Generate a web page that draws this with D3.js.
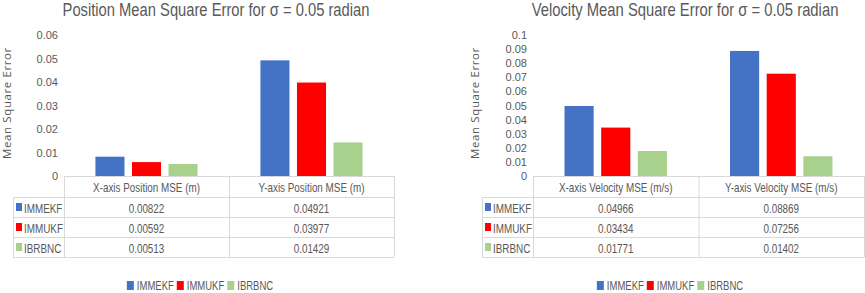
<!DOCTYPE html>
<html>
<head>
<meta charset="utf-8">
<style>
  body { margin: 0; background: #fff; }
  text { font-family: "Liberation Sans", sans-serif; fill: #595959; }
</style>
</head>
<body>
<svg id="cont" width="865" height="293"></svg>
<script src="https://cdn.jsdelivr.net/npm/d3@7"></script>
<script>
// data
var series = ["IMMEKF", "IMMUKF", "IBRBNC"];
var colors = ["#4472C4", "#FF0000", "#A9D18E"];

var posCategories = ["X-axis Position MSE (m)", "Y-axis Position MSE (m)"];
var posIMMEKF = [0.00822, 0.04921];
var posIMMUKF = [0.00592, 0.03977];
var posIBRBNC = [0.00513, 0.01429];
var posTicks = [0, 0.01, 0.02, 0.03, 0.04, 0.05, 0.06];

var velCategories = ["X-axis Velocity MSE (m/s)", "Y-axis Velocity MSE (m/s)"];
var velIMMEKF = [0.04966, 0.08869];
var velIMMUKF = [0.03434, 0.07256];
var velIBRBNC = [0.01771, 0.01402];
var velTicks = [0, 0.01, 0.02, 0.03, 0.04, 0.05, 0.06, 0.07, 0.08, 0.09, 0.1];

var svg = d3.select("#cont");

// squeeze text horizontally (narrow office font look) with a scale transform
function squeeze(sel, k) {
    sel.each(function () {
        var t = d3.select(this);
        var x = +t.attr("x") || 0, y = +t.attr("y") || 0;
        t.attr("x", 0).attr("y", 0)
            .attr("transform", "translate(" + x + "," + y + ") scale(" + k + ",1)");
    });
}

drawPanel({
    title: "Position Mean Square Error for \u03c3 = 0.05 radian",
    titleX: 216,
    categories: posCategories,
    values: [posIMMEKF, posIMMUKF, posIBRBNC],
    ticks: posTicks,
    keyLeft: 13, plotLeft: 64, plotRight: 394,
    labelX: 6, legendX: 200
});

drawPanel({
    title: "Velocity Mean Square Error for \u03c3 = 0.05 radian",
    titleX: 685,
    categories: velCategories,
    values: [velIMMEKF, velIMMUKF, velIBRBNC],
    ticks: velTicks,
    keyLeft: 482, plotLeft: 533, plotRight: 864,
    labelX: 474, legendX: 670
});

function drawPanel(cfg) {
    var g = svg.append("g");
    var top = 35, base = 176, rowH = 20, headH = 21;

    var title = g.append("text")
        .attr("x", cfg.titleX).attr("y", 16)
        .attr("text-anchor", "middle")
        .style("font-size", "17.5px")
        .text(cfg.title);
    squeeze(title, 307 / title.node().getComputedTextLength());

    g.append("text")
        .attr("transform", "translate(" + cfg.labelX + ",103) rotate(-90)")
        .attr("text-anchor", "middle")
        .attr("dominant-baseline", "central")
        .style("font-family", "'Open Sans', sans-serif")
        .style("font-size", "11.5px")
        .style("letter-spacing", "0.6px")
        .text("Mean Square Error");

    var y = d3.scaleLinear()
        .domain([0, d3.max(cfg.ticks)])
        .range([base, top]);

    var x = d3.scaleBand()
        .domain(cfg.categories)
        .range([cfg.plotLeft, cfg.plotRight]);

    var xs = d3.scaleBand()
        .domain(series)
        .range([0, x.bandwidth()])
        .paddingInner(0.205)
        .paddingOuter(0.86);

    // y axis labels only
    var yAxis = d3.axisLeft(y)
        .tickValues(cfg.ticks)
        .tickSize(0)
        .tickPadding(0)
        .tickFormat(d => d === 0 ? "0" : String(+d.toFixed(2)));
    var ag = g.append("g")
        .attr("transform", "translate(" + (cfg.plotLeft - 6) + ",0)")
        .call(yAxis);
    ag.select(".domain").remove();
    ag.selectAll("text")
        .style("font-size", "11px")
        .style("fill", "#595959")
        .style("font-family", "'Liberation Sans', sans-serif");

    // bars
    series.forEach(function (s, i) {
        g.selectAll(".bar" + i)
            .data(cfg.values[i])
            .enter()
            .append("rect")
            .attr("x", (d, j) => x(cfg.categories[j]) + xs(s))
            .attr("width", xs.bandwidth())
            .attr("y", d => y(d))
            .attr("height", d => base - y(d))
            .attr("fill", colors[i]);
    });

    // data table
    var lineColor = "#d9d9d9";
    var rowsTop = base + headH;
    var bottom = rowsTop + rowH * series.length;
    var tl = g.append("g").attr("stroke", lineColor).attr("stroke-width", 1);
    tl.append("line").attr("x1", cfg.plotLeft).attr("x2", cfg.plotRight)
        .attr("y1", base + 0.5).attr("y2", base + 0.5);
    d3.range(series.length + 1).forEach(function (r) {
        var yy = rowsTop + r * rowH + 0.5;
        tl.append("line").attr("x1", cfg.keyLeft).attr("x2", cfg.plotRight)
            .attr("y1", yy).attr("y2", yy);
    });
    tl.append("line").attr("x1", cfg.keyLeft + 0.5).attr("x2", cfg.keyLeft + 0.5)
        .attr("y1", rowsTop).attr("y2", bottom);
    [cfg.plotLeft].concat(cfg.categories.map(c => x(c) + x.bandwidth())).forEach(function (xx) {
        xx = Math.min(xx, 864);
        tl.append("line").attr("x1", xx + 0.5).attr("x2", xx + 0.5)
            .attr("y1", base).attr("y2", bottom);
    });

    var tt = g.append("g");
    cfg.categories.forEach(function (c) {
        tt.append("text")
            .attr("x", x(c) + x.bandwidth() / 2)
            .attr("y", base + headH / 2 + 1)
            .attr("text-anchor", "middle")
            .attr("dominant-baseline", "central")
            .style("font-size", "13px")
            .text(c);
    });

    series.forEach(function (s, i) {
        var cy = rowsTop + i * rowH + rowH / 2 + 1;
        g.append("rect")
            .attr("x", cfg.keyLeft + 3).attr("y", cy - 5)
            .attr("width", 6).attr("height", 8)
            .attr("fill", colors[i]);
        tt.append("text")
            .attr("x", cfg.keyLeft + 11).attr("y", cy)
            .attr("dominant-baseline", "central")
            .style("font-size", "13px")
            .text(s);
        cfg.categories.forEach(function (c, j) {
            tt.append("text")
                .attr("x", x(c) + x.bandwidth() / 2)
                .attr("y", cy)
                .attr("text-anchor", "middle")
                .attr("dominant-baseline", "central")
                .style("font-size", "13px")
                .text(d3.format(".5f")(cfg.values[i][j]));
        });
    });
    squeeze(tt.selectAll("text"), 0.76);

    // legend
    var lg = g.append("g");
    var xPos = 0;
    series.forEach(function (s, i) {
        var it = lg.append("g").attr("transform", "translate(" + xPos + ",0)");
        it.append("rect").attr("x", 0).attr("y", 281).attr("width", 7).attr("height", 9)
            .attr("fill", colors[i]);
        var t = it.append("text").attr("x", 10).attr("y", 285.5)
            .attr("dominant-baseline", "central")
            .style("font-size", "12.5px")
            .text(s);
        var w = t.node().getComputedTextLength() * 0.76;
        squeeze(t, 0.76);
        xPos += 10 + w + 3;
    });
    lg.attr("transform", "translate(" + (cfg.legendX - (xPos - 3) / 2) + ",0)");
}
</script>
</body>
</html>
